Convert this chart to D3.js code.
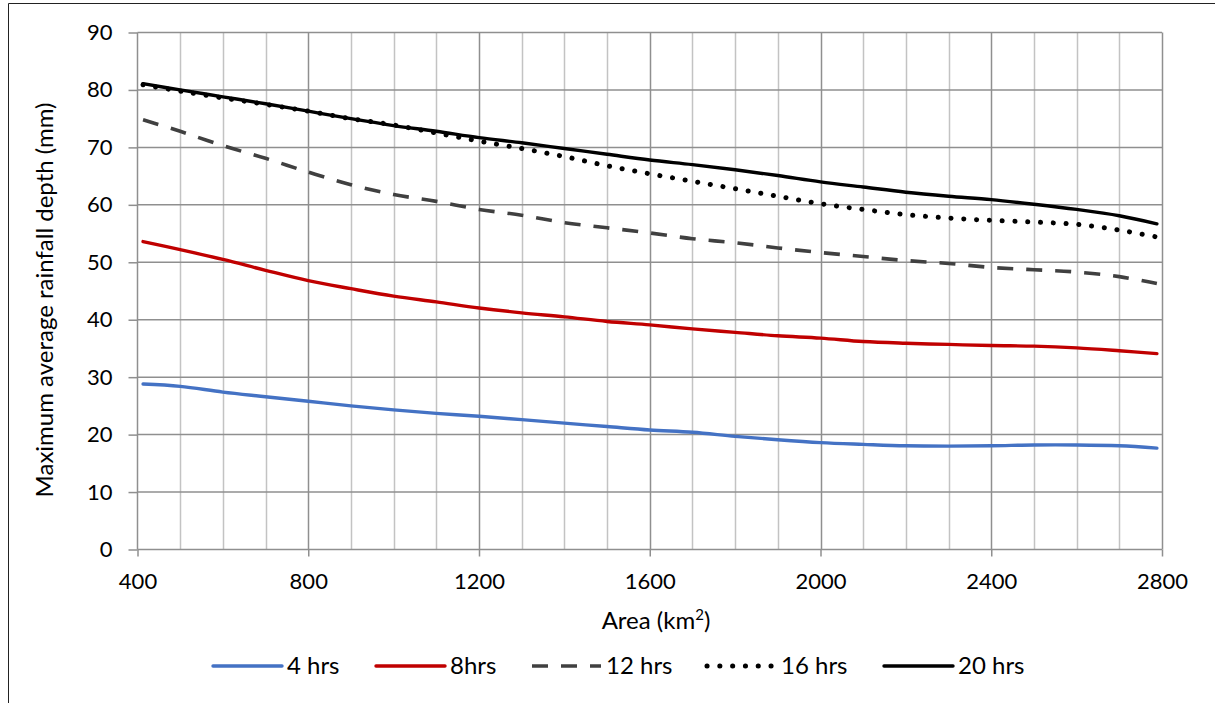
<!DOCTYPE html>
<html><head><meta charset="utf-8">
<script src="https://cdn.jsdelivr.net/npm/d3@7"></script>
<style>
body{margin:0;background:#fff;}
svg{display:block;font-family:Lato,"Open Sans",sans-serif;}
</style></head>
<body>
<svg id="c" width="1215" height="703"></svg>
<script>
const areas = [413,500,600,700,800,900,1000,1100,1200,1300,1400,1500,1600,1700,1800,1900,2000,2100,2200,2300,2400,2500,2600,2700,2788];
const hrs4  = [28.8,28.4,27.4,26.6,25.8,25.0,24.3,23.7,23.2,22.6,22.0,21.4,20.8,20.4,19.7,19.1,18.6,18.3,18.05,18.0,18.05,18.2,18.2,18.05,17.65];
const hrs8  = [53.6,52.2,50.5,48.6,46.8,45.4,44.1,43.1,42.05,41.2,40.5,39.7,39.1,38.4,37.8,37.2,36.8,36.2,35.9,35.7,35.5,35.4,35.1,34.6,34.1];
const hrs12 = [74.8,72.8,70.3,68.1,65.7,63.5,61.8,60.6,59.2,58.2,56.9,56.0,55.1,54.1,53.4,52.5,51.7,51.0,50.3,49.8,49.1,48.7,48.3,47.5,46.3];
const hrs16 = [80.9,79.8,78.6,77.5,76.3,75.0,73.9,72.5,71.1,69.8,68.4,66.8,65.4,64.1,62.8,61.5,60.2,59.2,58.3,57.7,57.3,57.0,56.6,55.6,54.4];
const hrs20 = [81.1,80.0,78.8,77.6,76.3,75.0,73.8,72.8,71.7,70.8,69.8,68.8,67.8,67.0,66.1,65.1,64.0,63.1,62.2,61.5,60.9,60.1,59.2,58.1,56.7];
const seriesNames = ["4 hrs","8hrs","12 hrs","16 hrs","20 hrs"];
const xTicks = [400,800,1200,1600,2000,2400,2800];
const yTicks = [0,10,20,30,40,50,60,70,80,90];

const FS = "22px", FT = "24px";
const svg = d3.select("#c");
const L = 137.5, R = 1162, T = 32.5, B = 549.5;
const x = d3.scaleLinear().domain([400,2800]).range([L,R]);
const y = d3.scaleLinear().domain([0,90]).range([B,T]);

// frame
svg.append("line").attr("x1",8.5).attr("x2",1215).attr("y1",3.5).attr("y2",3.5).attr("stroke","#222").attr("stroke-width",1);
svg.append("line").attr("x1",8.5).attr("x2",8.5).attr("y1",3.5).attr("y2",703).attr("stroke","#222").attr("stroke-width",1);

// minor vertical grid
const minor = d3.range(500,2800,100).filter(v=>v%400!==0);
svg.append("g").selectAll("line").data(minor).join("line")
  .attr("x1",d=>Math.round(x(d))+0.5).attr("x2",d=>Math.round(x(d))+0.5)
  .attr("y1",T).attr("y2",B).attr("stroke","#c3c3c3").attr("stroke-width",1.5);
// major vertical grid
svg.append("g").selectAll("line").data(xTicks.slice(1)).join("line")
  .attr("x1",d=>Math.round(x(d))+0.5).attr("x2",d=>Math.round(x(d))+0.5)
  .attr("y1",T).attr("y2",B).attr("stroke","#8f8f8f").attr("stroke-width",1.5);
// horizontal grid
svg.append("g").selectAll("line").data(yTicks.slice(1)).join("line")
  .attr("x1",L).attr("x2",R).attr("y1",d=>y(d)).attr("y2",d=>y(d))
  .attr("stroke","#8f8f8f").attr("stroke-width",1.5);

// axes
const yAxis = svg.append("g").attr("transform",`translate(${L},0)`)
  .call(d3.axisLeft(y).tickValues(yTicks).tickSize(9).tickPadding(16));
const xAxis = svg.append("g").attr("transform",`translate(0,${B})`)
  .call(d3.axisBottom(x).tickValues(xTicks).tickSize(7).tickPadding(17).tickFormat(d3.format("d")));
[yAxis,xAxis].forEach(a=>{
  a.select(".domain").attr("stroke","#8f8f8f").attr("stroke-width",1.5);
  a.selectAll(".tick line").attr("stroke","#8f8f8f").attr("stroke-width",1.5);
  a.selectAll(".tick text").attr("fill","#000").style("font-size",FS).style("font-family","Lato,'Open Sans',sans-serif");
});
xAxis.select(".domain").attr("d",`M${L},0H${R}`);
yAxis.select(".domain").attr("d",`M0,${B}V${T}`);

// titles
const xt = svg.append("text").attr("x",656).attr("y",629).attr("text-anchor","middle").style("font-size",FT);
xt.append("tspan").text("Area (km");
xt.append("tspan").attr("dy",-9).style("font-size","15px").text("2");
xt.append("tspan").attr("dy",9).text(")");
svg.append("text").attr("transform",`translate(53,${(T+B)/2+9}) rotate(-90)`).attr("text-anchor","middle")
  .style("font-size",FT).text("Maximum average rainfall depth (mm)");

// series
const styles = [
  {vals:hrs4, color:"#4472C4", w:3.4, dash:null, cap:"round"},
  {vals:hrs8, color:"#C00000", w:3.4, dash:null, cap:"round"},
  {vals:hrs12, color:"#404040", w:3.6, dash:"16,13", cap:"butt"},
  {vals:hrs16, color:"#000000", w:5, dash:"0.1,12.7", cap:"round"},
  {vals:hrs20, color:"#000000", w:3.4, dash:null, cap:"round"}
];
const line = d3.line().x(d=>x(d[0])).y(d=>y(d[1])).curve(d3.curveCatmullRom.alpha(0.5));
styles.forEach(s=>{
  svg.append("path").datum(areas.map((a,i)=>[a,s.vals[i]]))
    .attr("d",line).attr("fill","none").attr("stroke",s.color).attr("stroke-width",s.w)
    .attr("stroke-linecap",s.cap).attr("stroke-dasharray",s.dash);
});

// legend
const legX = [213,376,532,707,884];
const lg = svg.append("g");
styles.forEach((s,i)=>{
  lg.append("line").attr("x1",legX[i]).attr("x2",legX[i]+69).attr("y1",666).attr("y2",666)
    .attr("stroke",s.color).attr("stroke-width",s.w).attr("stroke-linecap",s.cap).attr("stroke-dasharray",s.dash);
  lg.append("text").attr("x",legX[i]+74).attr("y",666).attr("dy","0.35em")
    .style("font-size",FT).text(seriesNames[i]);
});
</script>
</body></html>
